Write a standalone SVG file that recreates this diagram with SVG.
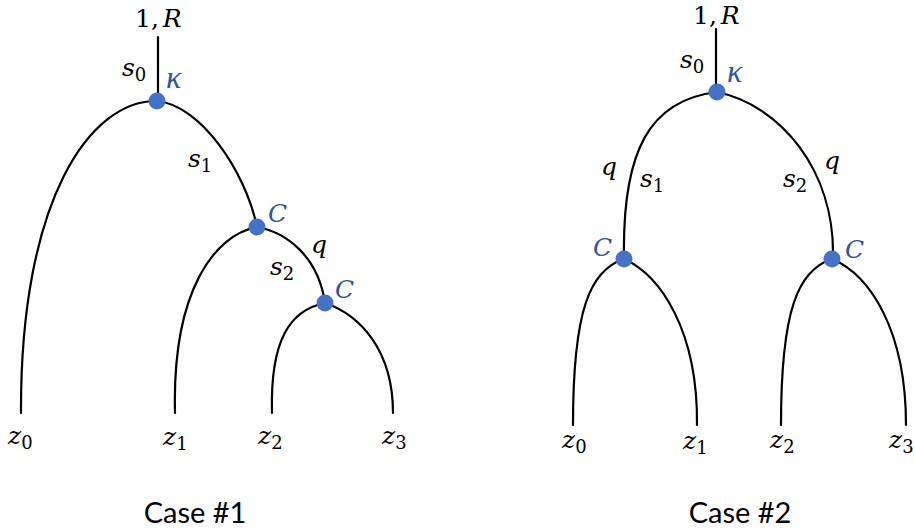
<svg xmlns="http://www.w3.org/2000/svg" width="915" height="531" viewBox="0 0 915 531">
<style>
.edge{fill:none;stroke:#000;stroke-width:2.2;stroke-linecap:round}
.node{fill:#4472C4}
.m{font-family:"DejaVu Serif","Liberation Serif",serif;font-size:25px;fill:#000}
.i{font-style:italic}
.b{fill:#2E5597}
.k{font-family:"Liberation Serif","DejaVu Serif",serif;font-size:32px}
.sub{font-size:18px;font-style:normal}
.cap{font-family:Lato,"Liberation Sans",sans-serif;font-size:29px;fill:#000;text-anchor:middle}
</style>
<rect width="915" height="531" fill="#fff"/>
<g id="connectors">
  <path class="edge" d="M158,37 L158,101"/>
  <path class="edge" d="M157,101 C90,100 20,200 21,413"/>
  <path class="edge" d="M157,101 C200,105 245,170 257,227"/>
  <path class="edge" d="M257,227 C215,235 172,290 175,413"/>
  <path class="edge" d="M257,227 C285,232 318,255 325,303"/>
  <path class="edge" d="M325,303 C290,310 270,340 272,413"/>
  <path class="edge" d="M325,303 C360,315 393,350 393,413"/>
  <path class="edge" d="M716,29 L716,92"/>
  <path class="edge" d="M717,92 C650,100 622,150 624,259"/>
  <path class="edge" d="M717,92 C780,105 835,170 833,258"/>
  <path class="edge" d="M624,259 C590,270 573,310 573,425"/>
  <path class="edge" d="M624,259 C660,275 698,330 697,425"/>
  <path class="edge" d="M832,259 C798,270 781,310 781,425"/>
  <path class="edge" d="M832,259 C870,275 906,330 906,425"/>
</g>
<g id="case1">
  <text class="m" x="135" y="27">1,<tspan class="i" dx="4">R</tspan></text>
  <text class="m i" x="122" y="76">s<tspan class="sub" dy="5">0</tspan></text>
  <g id="c1-kappa"><circle class="node" cx="157" cy="101" r="8.5"/><text class="m i b k" x="166" y="88">κ</text></g>
  <text class="m i" x="188" y="167">s<tspan class="sub" dy="5">1</tspan></text>
  <g id="c1-C1"><circle class="node" cx="257" cy="227" r="8.5"/><text class="m i b" x="268" y="222">C</text></g>
  <text class="m i" x="311" y="253">q</text>
  <text class="m i" x="270" y="275">s<tspan class="sub" dy="5">2</tspan></text>
  <g id="c1-C2"><circle class="node" cx="325" cy="303" r="8.5"/><text class="m i b" x="335" y="298">C</text></g>
  <g id="c1-z0"><text class="m i" x="8" y="444">z<tspan class="sub" dy="5">0</tspan></text></g>
  <g id="c1-z1"><text class="m i" x="163" y="445">z<tspan class="sub" dy="5">1</tspan></text></g>
  <g id="c1-z2"><text class="m i" x="258" y="444">z<tspan class="sub" dy="5">2</tspan></text></g>
  <g id="c1-z3"><text class="m i" x="382" y="444">z<tspan class="sub" dy="5">3</tspan></text></g>
  <text class="cap" x="195" y="523">Case #1</text>
</g>
<g id="case2">
  <text class="m" x="693" y="24">1,<tspan class="i" dx="4">R</tspan></text>
  <text class="m i" x="680" y="68">s<tspan class="sub" dy="5">0</tspan></text>
  <g id="c2-kappa"><circle class="node" cx="717" cy="92" r="8.5"/><text class="m i b k" x="727" y="82">κ</text></g>
  <text class="m i" x="601" y="175">q</text>
  <text class="m i" x="640" y="187">s<tspan class="sub" dy="5">1</tspan></text>
  <text class="m i" x="783" y="187">s<tspan class="sub" dy="5">2</tspan></text>
  <text class="m i" x="824" y="169">q</text>
  <g id="c2-CL"><circle class="node" cx="624" cy="259" r="8.5"/><text class="m i b" x="593" y="256">C</text></g>
  <g id="c2-CR"><circle class="node" cx="832" cy="259" r="8.5"/><text class="m i b" x="845" y="258">C</text></g>
  <g id="c2-z0"><text class="m i" x="562" y="448">z<tspan class="sub" dy="5">0</tspan></text></g>
  <g id="c2-z1"><text class="m i" x="683" y="449">z<tspan class="sub" dy="5">1</tspan></text></g>
  <g id="c2-z2"><text class="m i" x="770" y="448">z<tspan class="sub" dy="5">2</tspan></text></g>
  <g id="c2-z3"><text class="m i" x="889" y="448">z<tspan class="sub" dy="5">3</tspan></text></g>
  <text class="cap" x="740" y="523">Case #2</text>
</g>
</svg>
